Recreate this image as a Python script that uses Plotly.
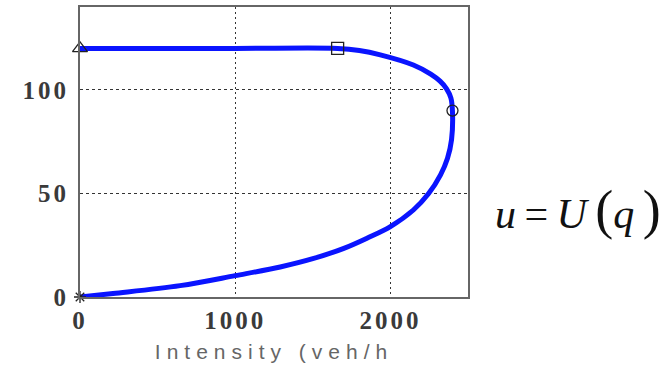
import plotly.graph_objects as go

# Curve u = U(q): intensity q (veh/h) vs speed u
q_curve = [0, 213, 645, 1000, 1290, 1500, 1700, 1852, 2000, 2148, 2245, 2323, 2368, 2394, 2400,
           2390, 2362, 2320, 2260, 2148, 1935, 1800, 1660, 1000, 0]
u_curve = [0, 1.7, 5.5, 10.3, 14.5, 18.5, 23.5, 28.5, 34, 42, 49.8, 59, 67, 76, 89.4,
           96, 100.5, 104.2, 107.6, 112, 116.9, 119, 120, 120, 120]

# Marked points
tri_q, tri_u = [0], [120]
sq_q, sq_u = [1660], [120]
circ_q, circ_u = [2400], [90]
star_q, star_u = [0], [0]

x_ticks = [0, 1000, 2000]
y_ticks = [0, 50, 100]
x_title = "Intensity (veh/h"
formula = ("<i>u</i>\u2009=\u2009<i>U</i>\u2009<span style='font-size:54px'>(</span><i>q</i>"
           "\u2009<span style='font-size:54px'>)</span>")

fig = go.Figure()
fig.add_trace(go.Scatter(x=q_curve, y=u_curve, mode="lines",
                         line=dict(color="#0a14ff", width=5, shape="spline", smoothing=1.0),
                         hoverinfo="skip", showlegend=False))
for xs, ys, sym, sz in [(tri_q, tri_u, "triangle-up-open", 13),
                         (sq_q, sq_u, "square-open", 12),
                         (circ_q, circ_u, "circle-open", 11),
                         (star_q, star_u, "asterisk-open", 10)]:
    fig.add_trace(go.Scatter(x=xs, y=ys, mode="markers", cliponaxis=False,
                             marker=dict(symbol=sym, size=sz, color="#222",
                                         line=dict(color="#222", width=1.3)),
                             showlegend=False))

tickfont = dict(family="Liberation Serif", size=25, color="#3a3a3a", weight="bold")
fig.update_xaxes(range=[0, 2500], tickvals=x_ticks, ticktext=[str(v) for v in x_ticks],
                 showgrid=True, gridcolor="#333", griddash="2px,3px", gridwidth=1,
                 showline=True, linecolor="#666", linewidth=2, mirror=True,
                 zeroline=False, ticks="", tickfont=tickfont, automargin=False,
                 title=dict(text=x_title, font=dict(family="Liberation Sans", size=21, color="#666"),
                            standoff=11))
fig.update_yaxes(range=[0, 140], tickvals=y_ticks, ticktext=[str(v) for v in y_ticks],
                 showgrid=True, gridcolor="#333", griddash="3px,3px", gridwidth=1,
                 showline=True, linecolor="#666", linewidth=2, mirror=True,
                 zeroline=False, ticks="", tickfont=tickfont, ticklabelstandoff=4,
                 automargin=False)

fig.add_annotation(text=formula, xref="paper", yref="paper", x=1.065, y=0.30,
                   xanchor="left", yanchor="middle", showarrow=False,
                   font=dict(family="Liberation Serif", size=42, color="#111"))

fig.update_layout(width=663, height=368, margin=dict(l=80, r=195, t=7, b=71),
                  paper_bgcolor="white", plot_bgcolor="white")

post = """
document.body.style.margin = '0';
var gd = document.getElementById('{plot_id}');
function fixSpacing(){
  document.querySelectorAll('.xtick text, .ytick text').forEach(function(t){t.style.letterSpacing='3px';});
  document.querySelectorAll('.xtitle').forEach(function(t){t.style.letterSpacing='6px';});
}
fixSpacing();
gd.on('plotly_afterplot', fixSpacing);
"""
fig.write_html("out.html", post_script=post, config={"displayModeBar": False})
